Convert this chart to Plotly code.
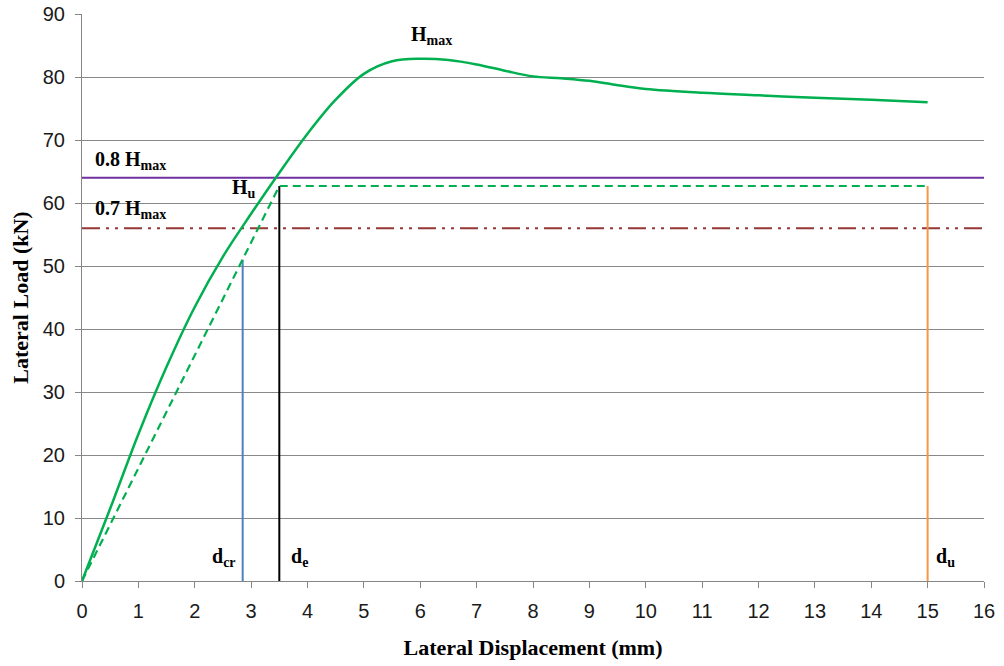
import plotly.graph_objects as go

# Load–displacement envelope (mm, kN)
disp = [0, 0.5, 1.0, 1.5, 2.0, 2.5, 3.0, 3.5, 4.0, 4.5, 5.0, 5.5, 6.0, 6.5, 7.0,
        7.5, 8.0, 8.5, 9.0, 9.5, 10.0, 11.0, 12.0, 13.0, 14.0, 15.0]
load = [0, 11.5, 23.3, 34.0, 43.5, 51.5, 58.3, 64.8, 71.0, 76.4, 80.5, 82.5, 82.9, 82.7, 82.0,
        81.0, 80.1, 79.8, 79.4, 78.7, 78.1, 77.5, 77.1, 76.7, 76.4, 76.0]

# Idealised bilinear curve
bilin_x = [0, 3.5, 15]
bilin_y = [0, 62.7, 62.7]

# Reference levels and characteristic displacements
h_08 = 64.0
h_07 = 56.0
h_u = 62.7
d_cr, h_cr = 2.85, 51.0
d_e = 3.5
d_u = 15.0

x_ticks = list(range(0, 17))
y_ticks = list(range(0, 91, 10))

serif = "Liberation Serif"
sans = "Liberation Sans"

fig = go.Figure()

fig.add_trace(go.Scatter(x=[0, 16], y=[h_08, h_08], mode="lines",
                         line=dict(color="#7030A0", width=2)))
fig.add_trace(go.Scatter(x=[0, 16], y=[h_07, h_07], mode="lines",
                         line=dict(color="#953735", width=2, dash="18px,6px,3px,6px,3px,6px")))
fig.add_trace(go.Scatter(x=[d_cr, d_cr], y=[0, h_cr], mode="lines",
                         line=dict(color="#4F81BD", width=2)))
fig.add_trace(go.Scatter(x=[d_e, d_e], y=[0, h_u], mode="lines",
                         line=dict(color="#000000", width=2)))
fig.add_trace(go.Scatter(x=[d_u, d_u], y=[0, h_u], mode="lines",
                         line=dict(color="#F79646", width=2)))
fig.add_trace(go.Scatter(x=bilin_x, y=bilin_y, mode="lines",
                         line=dict(color="#00B050", width=2.2, dash="8px,5px")))
fig.add_trace(go.Scatter(x=disp, y=load, mode="lines",
                         line=dict(color="#00B050", width=2.5, shape="spline", smoothing=1.0)))

lab_font = dict(family=serif, size=20, color="#000000")


def label(x, y, main, sub):
    fig.add_annotation(x=x, y=y, xref="x", yref="y", xanchor="left", yanchor="bottom",
                       text=f"<b>{main}<sub>{sub}</sub></b>", showarrow=False,
                       font=lab_font)


label(0.2, 64.5, "0.8 H", "max")
label(0.2, 56.6, "0.7 H", "max")
label(5.8, 84.3, "H", "max")
label(2.62, 60.0, "H", "u")
label(2.27, 1.5, "d", "cr")
label(3.68, 1.5, "d", "e")
label(15.12, 1.5, "d", "u")

axis_common = dict(showline=True, linecolor="#868686", linewidth=1,
                   ticks="outside", ticklen=6, tickcolor="#868686",
                   tickfont=dict(family=sans, size=20, color="#1a1a1a"),
                   zeroline=False, automargin=False)

fig.update_xaxes(range=[0, 16], tickvals=x_ticks, showgrid=False,
                 title=dict(text="<b>Lateral Displacement (mm)</b>",
                            font=dict(family=serif, size=22, color="#000000"), standoff=18),
                 ticklabelstandoff=6, **axis_common)
fig.update_yaxes(range=[0, 90], tickvals=y_ticks, showgrid=True, gridcolor="#888888",
                 gridwidth=1,
                 title=dict(text="<b>Lateral Load (kN)</b>",
                            font=dict(family=serif, size=22, color="#000000"), standoff=8),
                 ticklabelstandoff=6, **axis_common)

fig.update_layout(width=1004, height=666, showlegend=False,
                  margin=dict(l=82, r=20, t=14, b=85),
                  plot_bgcolor="white", paper_bgcolor="white")

fig.write_html("out.html")
